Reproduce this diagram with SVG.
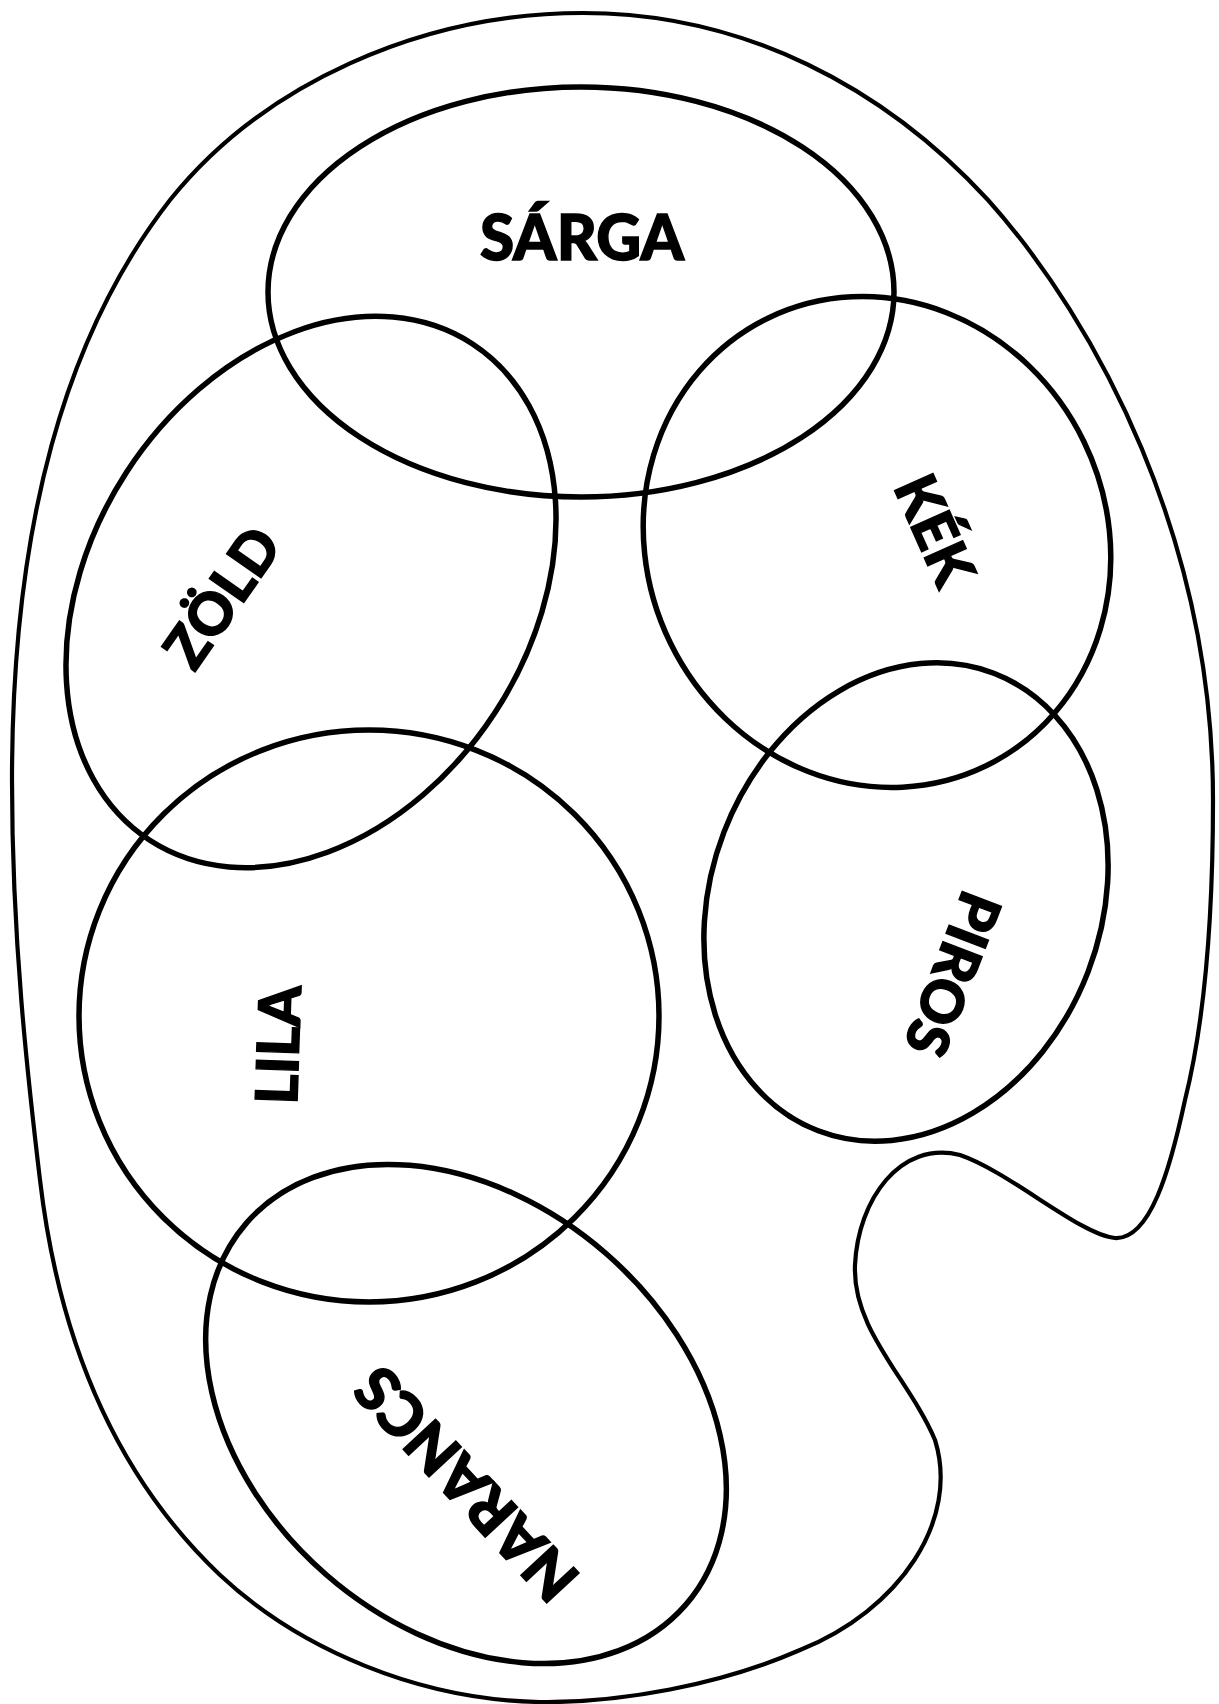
<svg xmlns="http://www.w3.org/2000/svg" width="1219" height="1704" viewBox="0 0 1219 1704">
<style>
.palette{fill:#ffffff;stroke:#000;stroke-width:4.2}
.well{fill:none;stroke:#000;stroke-width:5.5}
.lbl{font-family:Lato,"Liberation Sans",sans-serif;font-weight:900;font-size:58px;fill:#000;stroke:#000;stroke-width:1.4;text-anchor:middle}
</style>
<rect width="1219" height="1704" fill="#ffffff"/>
<g id="palette">
<path class="palette" d="M 583,13 C 745,13 885,88 988,200 C 1098,323 1213,540 1213,800 C 1213,950 1200,1040 1185,1100 C 1170,1170 1150,1240 1115,1238 C 1080,1235 1010,1172 960,1155 C 900,1140 858,1200 855,1265 C 852,1330 910,1380 935,1440 C 960,1520 900,1610 800,1650 C 720,1685 620,1703 540,1702 C 420,1700 300,1650 220,1575 C 122,1482 60,1350 40,1180 C 28,1080 12,940 12,780 C 12,525 65,335 170,200 C 262,85 420,13 583,13 Z"/>
</g>
<g id="sarga">
<ellipse class="well" cx="581" cy="292" rx="313" ry="205"/>
<text class="lbl" x="582" y="260" style="font-size:62px">SÁRGA</text>
</g>
<g id="zold">
<ellipse class="well" cx="0" cy="0" rx="220" ry="296" transform="translate(311,592) rotate(33)"/>
<text class="lbl" x="0" y="21" transform="translate(222,597) rotate(-55)">ZÖLD</text>
</g>
<g id="kek">
<ellipse class="well" cx="0" cy="0" rx="230" ry="249" transform="translate(877,542) rotate(-26)"/>
<text class="lbl" x="0" y="21" transform="translate(935,530) rotate(66)">KÉK</text>
</g>
<g id="piros">
<ellipse class="well" cx="0" cy="0" rx="195" ry="245" transform="translate(906,902) rotate(21)"/>
<text class="lbl" x="0" y="21" transform="translate(953,974) rotate(111)">PIROS</text>
</g>
<g id="lila">
<ellipse class="well" cx="369" cy="1016" rx="290" ry="286"/>
<text class="lbl" x="0" y="21" transform="translate(278,1045) rotate(-88)">LILA</text>
</g>
<g id="narancs">
<ellipse class="well" cx="0" cy="0" rx="213" ry="291" transform="translate(466,1414) rotate(-49)"/>
<text class="lbl" x="0" y="22" transform="translate(466,1484) rotate(-133)" style="font-size:61px">NARANCS</text>
</g>
</svg>
